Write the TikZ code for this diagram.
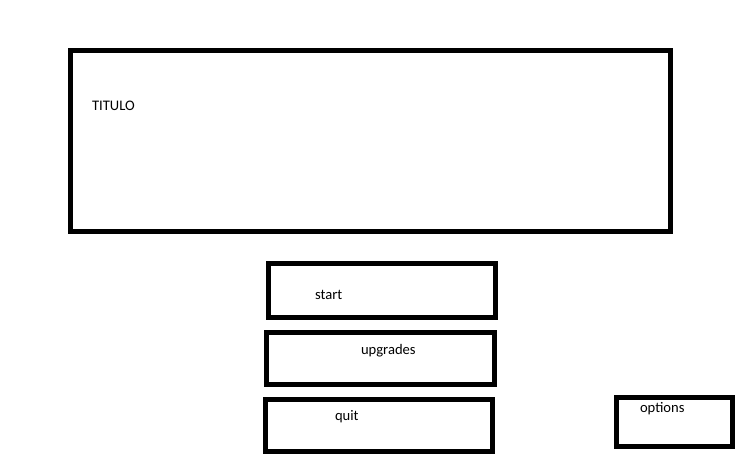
\documentclass[tikz,border=0pt]{standalone}
\usepackage{fontspec}
\setmainfont{Carlito}
\begin{document}
\begin{tikzpicture}[x=1pt,y=-1pt,
  box/.style={draw=black,line width=5pt,inner sep=0pt,outer sep=0pt,fill=none},
  lbl/.style={anchor=base west,inner sep=0pt,outer sep=0pt,font=\fontsize{14.6}{17}\selectfont,text=black}]
\useasboundingbox[fill=white] (0,0) rectangle (747,462);
\node[box,minimum width=600pt,minimum height=181pt] (title) at (370,141) {};
\node[box,minimum width=226.5pt,minimum height=54pt] (start) at (381.75,290.5) {};
\node[box,minimum width=227.5pt,minimum height=51.5pt] (upgrades) at (380.25,358.25) {};
\node[box,minimum width=226.7pt,minimum height=52pt] (quit) at (379.15,425) {};
\node[box,minimum width=116pt,minimum height=49.3pt] (options) at (674.5,422.15) {};
\node[lbl] (titulotxt) at (92,111) {TITULO};
\node[lbl] (starttxt) at (315,300) {start};
\node[lbl] (upgradestxt) at (361,354) {upgrades};
\node[lbl] (quittxt) at (335,420) {quit};
\node[lbl] (optionstxt) at (640,412.3) {options};
\end{tikzpicture}
\end{document}
